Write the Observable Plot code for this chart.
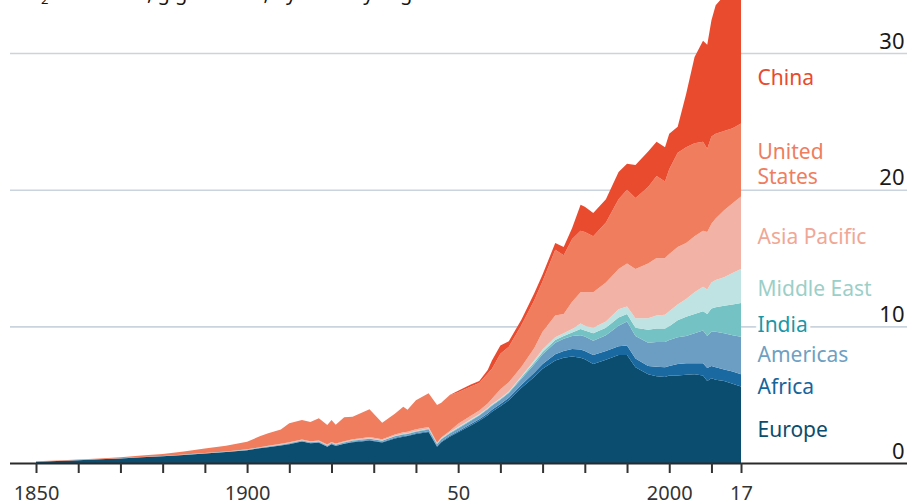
<!DOCTYPE html>
<html>
<head>
<meta charset="utf-8">
<script src="https://cdn.jsdelivr.net/npm/d3@7"></script>
<script src="https://cdn.jsdelivr.net/npm/@observablehq/plot@0.6"></script>
<style>
html, body { margin: 0; padding: 0; background: #fff; overflow: hidden; }
#wrap { position: relative; width: 907px; height: 503px; font-family: "Noto Sans", sans-serif; }
#chart { position: absolute; left: 0; top: 0; }
#title { position: absolute; left: 13px; top: -19px; font-size: 20px; line-height: 24px; color: #151515; white-space: nowrap; }
#title sub { font-size: 0.65em; vertical-align: baseline; position: relative; top: 0.3em; }
</style>
</head>
<body>
<div id="wrap">
  <div id="chart"></div>
  <div id="title">CO<sub>2</sub> emissions, gigatonnes, by country/region</div>
</div>
<script>
// Years sampled from the chart
const years = [1850,1855,1860,1865,1870,1875,1880,1885,1890,1895,
  1900,1903,1905,1908,1910,1913,1915,1917,1919,1920,
  1921,1923,1925,1927,1929,1932,1935,1937,1938,1940,
  1943,1945,1946,1948,1950,1953,1955,1957,1958,1960,
  1962,1965,1968,1970,1973,1975,1977,1979,1980,1982,
  1985,1988,1990,1992,1995,1997,1999,2000,2002,2004,
  2006,2008,2009,2010,2011,2013,2015,2017];

// CO2 emissions, gigatonnes
const europe = [0.10,0.15,0.21,0.27,0.33,0.42,0.50,0.59,0.69,0.80,
  0.93,1.08,1.15,1.28,1.38,1.57,1.44,1.48,1.18,1.37,
  1.25,1.40,1.52,1.58,1.64,1.50,1.80,1.93,1.97,2.12,
  2.27,1.18,1.52,1.92,2.25,2.75,3.10,3.50,3.75,4.15,
  4.60,5.50,6.30,6.90,7.50,7.70,7.80,7.70,7.60,7.25,
  7.55,7.90,7.90,7.00,6.50,6.35,6.30,6.40,6.40,6.45,
  6.50,6.40,6.00,6.20,6.10,6.00,5.80,5.60];
const africa = [0,0,0,0,0,0,0,0,0.01,0.01,
  0.01,0.01,0.02,0.02,0.02,0.03,0.03,0.03,0.03,0.03,
  0.03,0.03,0.04,0.04,0.04,0.04,0.05,0.05,0.05,0.05,
  0.06,0.06,0.06,0.07,0.08,0.10,0.11,0.13,0.14,0.16,
  0.18,0.22,0.30,0.35,0.45,0.50,0.55,0.60,0.60,0.65,
  0.65,0.65,0.70,0.65,0.60,0.70,0.70,0.70,0.85,0.85,
  0.80,0.90,0.95,0.90,0.90,0.85,0.90,0.90];
const americas = [0,0,0.01,0.01,0.01,0.01,0.01,0.02,0.02,0.02,
  0.03,0.03,0.04,0.04,0.05,0.05,0.05,0.06,0.06,0.06,
  0.06,0.07,0.07,0.08,0.09,0.08,0.10,0.11,0.11,0.12,
  0.13,0.14,0.15,0.17,0.20,0.25,0.26,0.30,0.30,0.32,
  0.35,0.45,0.60,0.70,0.85,0.90,0.95,1.05,1.05,1.05,
  1.15,1.50,1.75,1.65,1.70,1.80,1.85,1.90,1.95,2.00,
  2.20,2.40,2.35,2.50,2.60,2.65,2.65,2.74];
const india = [0,0,0,0,0,0,0,0.01,0.01,0.01,
  0.01,0.02,0.02,0.02,0.02,0.02,0.02,0.02,0.02,0.02,
  0.02,0.03,0.03,0.03,0.03,0.03,0.03,0.03,0.03,0.04,
  0.04,0.04,0.04,0.05,0.05,0.05,0.05,0.05,0.05,0.05,
  0.05,0.10,0.15,0.18,0.20,0.20,0.25,0.45,0.45,0.55,
  0.55,0.60,0.55,0.60,0.95,1.00,1.00,1.00,1.25,1.40,
  1.40,1.40,1.60,1.70,1.80,2.00,2.25,2.46];
const middleEast = [0,0,0,0,0,0,0,0,0,0,
  0,0,0,0,0,0,0,0,0,0,
  0,0,0.01,0.01,0.01,0.01,0.01,0.02,0.02,0.02,
  0.02,0.02,0.03,0.04,0.05,0.05,0.05,0.05,0.05,0.05,
  0.06,0.08,0.15,0.17,0.20,0.20,0.25,0.40,0.35,0.40,
  0.45,0.60,0.55,0.70,0.85,0.95,1.00,1.10,1.15,1.30,
  1.60,1.80,1.80,1.90,2.00,2.10,2.30,2.50];
const asiaPacific = [0,0,0,0,0,0,0,0,0.01,0.01,
  0.02,0.02,0.03,0.04,0.05,0.05,0.05,0.06,0.06,0.06,
  0.06,0.07,0.07,0.08,0.09,0.08,0.10,0.11,0.11,0.12,
  0.12,0.05,0.06,0.10,0.25,0.25,0.28,0.32,0.41,0.67,
  0.66,0.70,0.90,1.30,1.60,1.40,2.00,2.30,2.45,2.60,
  2.85,2.95,3.15,3.60,4.00,4.20,4.15,4.20,4.20,4.10,
  4.10,4.10,4.20,4.30,4.50,4.90,5.10,5.30];
const unitedStates = [0.02,0.03,0.04,0.05,0.08,0.11,0.15,0.22,0.33,0.42,
  0.56,0.79,0.91,1.05,1.38,1.43,1.41,1.62,1.43,1.61,
  1.38,1.75,1.65,1.83,2.03,1.21,1.51,1.87,1.61,2.13,
  2.46,2.75,2.54,2.60,2.30,2.15,2.00,2.20,2.20,2.60,
  2.60,3.05,3.50,3.70,4.80,4.30,4.60,4.50,4.40,4.10,
  4.40,5.10,5.40,5.20,5.60,6.00,5.60,6.20,6.90,7.00,
  6.80,6.50,6.10,6.40,6.20,5.80,5.50,5.35];
const china = [0,0,0,0,0,0,0,0,0,0,
  0,0,0,0,0,0,0,0,0,0,
  0,0,0,0,0,0,0,0,0,0,
  0,0,0,0.02,0.10,0.15,0.15,0.25,0.60,0.60,
  0.40,0.40,0.50,0.50,0.50,0.60,0.80,1.90,1.85,1.70,
  1.70,2.00,1.90,2.40,2.60,2.50,2.50,2.60,1.90,3.90,
  6.30,7.40,7.60,8.50,9.40,9.90,9.80,9.65];

const regions = ["Europe","Africa","Americas","India","Middle East","Asia Pacific","United States","China"];
const labelText = ["Europe","Africa","Americas","India","Middle East","Asia Pacific","United\nStates","China"];
const areaColors = ["#0b4d6e","#1a69a0","#6c9ec4","#74c2c4","#bfe3e2","#f2b3a6","#ef7d5e","#e94b2f"];
const labelColors = ["#0b4d6e","#14659c","#6f9fc2","#1a97a6","#9ccfc8","#f0a796","#ef7d5e","#e84a2f"];
// vertical nudge (px) of each end label from its band's midpoint
const labelNudge = [4, 5, -2, 3, 1, 3, 3, 19];

const yTicks = [0, 10, 20, 30];
const xTicks = [1850,1860,1870,1880,1890,1900,1910,1920,1930,1940,1950,1960,1970,1980,1990,2000,2010,2017];
const xTickLabels = {1850: "1850", 1900: "1900", 1950: "50", 2000: "2000", 2017: "17"};

const seriesList = [europe, africa, americas, india, middleEast, asiaPacific, unitedStates, china];
const idx = Object.fromEntries(regions.map((r, i) => [r, i]));
const tidy = regions.flatMap((r, i) => years.map((y, j) => ({region: r, year: y, value: seriesList[i][j]})));
const lastYear = years[years.length - 1];
const last = tidy.filter(d => d.year === lastYear);

const stackOpts = {x: "year", y: "value", z: "region", order: regions};

const labelMarks = regions.map((r, i) =>
  Plot.text(last, Plot.stackY({
    ...stackOpts,
    text: d => d.region === r ? labelText[i] : "",
    fill: labelColors[i],
    textAnchor: "start", dx: 16, dy: labelNudge[i], fontSize: 21, lineHeight: 1.22,
    stroke: "white", strokeWidth: 8, paintOrder: "stroke"
  }))
);

const chart = Plot.plot({
  width: 907,
  height: 503,
  marginTop: 0,
  marginBottom: 40,
  marginLeft: 10,
  marginRight: 0,
  x: {domain: [1843.84, 2056.32]},
  y: {domain: [0, 33.88], axis: null},
  color: {type: "identity"},
  style: {fontFamily: "'Noto Sans', sans-serif", background: "transparent", color: "#1a1a1a"},
  marks: [
    Plot.ruleY(yTicks.filter(d => d > 0), {stroke: "#c9d4dc", strokeWidth: 1.6}),
    Plot.areaY(tidy, Plot.stackY({...stackOpts, fill: d => areaColors[idx[d.region]]})),
    Plot.ruleY([0], {stroke: "#2a2a2a", strokeWidth: 1.8}),
    Plot.axisX(xTicks, {
      tickSize: 10, tickPadding: 12, strokeWidth: 2, color: "#333",
      tickFormat: d => xTickLabels[d] ?? "", fontSize: 20, label: null
    }),
    Plot.text(yTicks, {
      y: d => d, text: d => String(d), frameAnchor: "right",
      textAnchor: "end", lineAnchor: "bottom", dx: -3, dy: -5, fontSize: 22, fill: "#1a1a1a"
    }),
    ...labelMarks
  ]
});
document.getElementById("chart").appendChild(chart);
</script>
</body>
</html>
